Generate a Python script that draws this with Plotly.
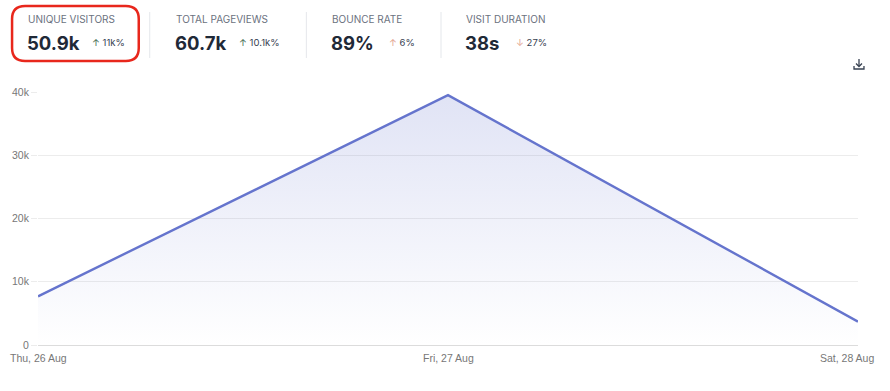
import plotly.graph_objects as go

# ---- data ----
dates = ["Thu, 26 Aug", "Fri, 27 Aug", "Sat, 28 Aug"]
visitors = [7700, 39500, 3700]
y_ticks = [0, 10000, 20000, 30000, 40000]
y_tick_labels = ["0", "10k", "20k", "30k", "40k"]

stat_titles = ["UNIQUE VISITORS", "TOTAL PAGEVIEWS", "BOUNCE RATE", "VISIT DURATION"]
stat_values = ["50.9k", "60.7k", "89%", "38s"]
stat_changes = ["11k%", "10.1k%", "6%", "27%"]
stat_arrows = ["↑", "↑", "↑", "↓"]
stat_arrow_colors = ["#3f6b52", "#3f6b52", "#e3a48f", "#e3a48f"]

W, H = 890, 391
L, R, T, B = 36, 32, 92, 46
PW, PH = W - L - R, H - T - B


def px(x):
    return (x - L) / PW


def py(y):
    return (H - B - y) / PH


LINE = "#6574cd"

fig = go.Figure()
fig.add_trace(go.Scatter(
    x=dates, y=visitors, mode="lines",
    line=dict(color=LINE, width=2.4),
    fill="tozeroy",
    fillgradient=dict(type="vertical",
                      colorscale=[[0, "rgba(101,116,205,0.0)"], [1, "rgba(101,116,205,0.2)"]]),
    hoverinfo="skip", showlegend=False,
))

annotations = []
shapes = []

# x labels (as annotations, last one shifted to fit)
for i, d in enumerate(dates):
    xshift = 0
    if i == len(dates) - 1:
        xshift = -11
    annotations.append(dict(x=d, y=0, xref="x", yref="y", text=d, showarrow=False,
                            yshift=-13, xshift=xshift,
                            font=dict(family="Liberation Sans", size=10.5, color="#777")))

# header stats
title_x = [27, 175, 332, 466]
change_x = [91, 238, 389, 516]
for i in range(4):
    annotations.append(dict(x=px(title_x[i] - 3), y=py(19), xref="paper", yref="paper",
                            text=stat_titles[i], showarrow=False, xanchor="left", yanchor="middle",
                            font=dict(family="Inter", size=10, color="#6b7280")))
    annotations.append(dict(x=px(title_x[i] - 4), y=py(43), xref="paper", yref="paper",
                            text="<b>" + stat_values[i] + "</b>", showarrow=False,
                            xanchor="left", yanchor="middle",
                            font=dict(family="Inter", size=18.5, color="#1f2937")))
    annotations.append(dict(x=px(change_x[i] - 3), y=py(42), xref="paper", yref="paper",
                            text="<span style='color:%s'>%s</span> %s" % (stat_arrow_colors[i], stat_arrows[i], stat_changes[i]),
                            showarrow=False, xanchor="left", yanchor="middle",
                            font=dict(family="Inter", size=9.5, color="#374151")))

# dividers
for dx in [148, 305, 440]:
    shapes.append(dict(type="line", xref="paper", yref="paper",
                       x0=px(dx), x1=px(dx), y0=py(12), y1=py(58),
                       line=dict(color="#e5e7eb", width=1)))

# red rounded rectangle
x0, x1, y0, y1, r = 10, 137, 6, 61, 13
pts = (f"M {px(x0 + r)},{py(y0)} L {px(x1 - r)},{py(y0)} Q {px(x1)},{py(y0)} {px(x1)},{py(y0 + r)} "
       f"L {px(x1)},{py(y1 - r)} Q {px(x1)},{py(y1)} {px(x1 - r)},{py(y1)} "
       f"L {px(x0 + r)},{py(y1)} Q {px(x0)},{py(y1)} {px(x0)},{py(y1 - r)} "
       f"L {px(x0)},{py(y0 + r)} Q {px(x0)},{py(y0)} {px(x0 + r)},{py(y0)} Z")
shapes.append(dict(type="path", xref="paper", yref="paper", path=pts,
                   line=dict(color="#e8271c", width=2.5)))

# download icon
ic = "#374151"
shapes.append(dict(type="line", xref="paper", yref="paper", x0=px(859), x1=px(859), y0=py(59), y1=py(66),
                   line=dict(color=ic, width=1.3)))
shapes.append(dict(type="path", xref="paper", yref="paper",
                   path=f"M {px(856)},{py(63.5)} L {px(859)},{py(66.5)} L {px(862)},{py(63.5)}",
                   line=dict(color=ic, width=1.3)))
shapes.append(dict(type="path", xref="paper", yref="paper",
                   path=f"M {px(854)},{py(66)} L {px(854)},{py(69)} L {px(864)},{py(69)} L {px(864)},{py(66)}",
                   line=dict(color=ic, width=1.3)))

fig.update_layout(
    width=W, height=H,
    margin=dict(l=L, r=R, t=T, b=B, pad=0),
    paper_bgcolor="white", plot_bgcolor="white",
    xaxis=dict(showgrid=False, zeroline=False, showticklabels=False, ticks="",
               range=[0, 2], showline=False, fixedrange=True),
    yaxis=dict(range=[0, 40000], tickvals=y_ticks, ticktext=y_tick_labels,
               showgrid=True, gridcolor="#ececec", gridwidth=1,
               zeroline=True, zerolinecolor="#dcdcdc", zerolinewidth=1,
               ticks="outside", ticklen=6, tickcolor="#ececec",
               tickfont=dict(family="Liberation Sans", size=10.5, color="#777"),
               fixedrange=True),
    annotations=annotations, shapes=shapes,
)

fig.write_html("out.html", config={"displayModeBar": False},
               post_script="document.body.style.margin='0px';")
